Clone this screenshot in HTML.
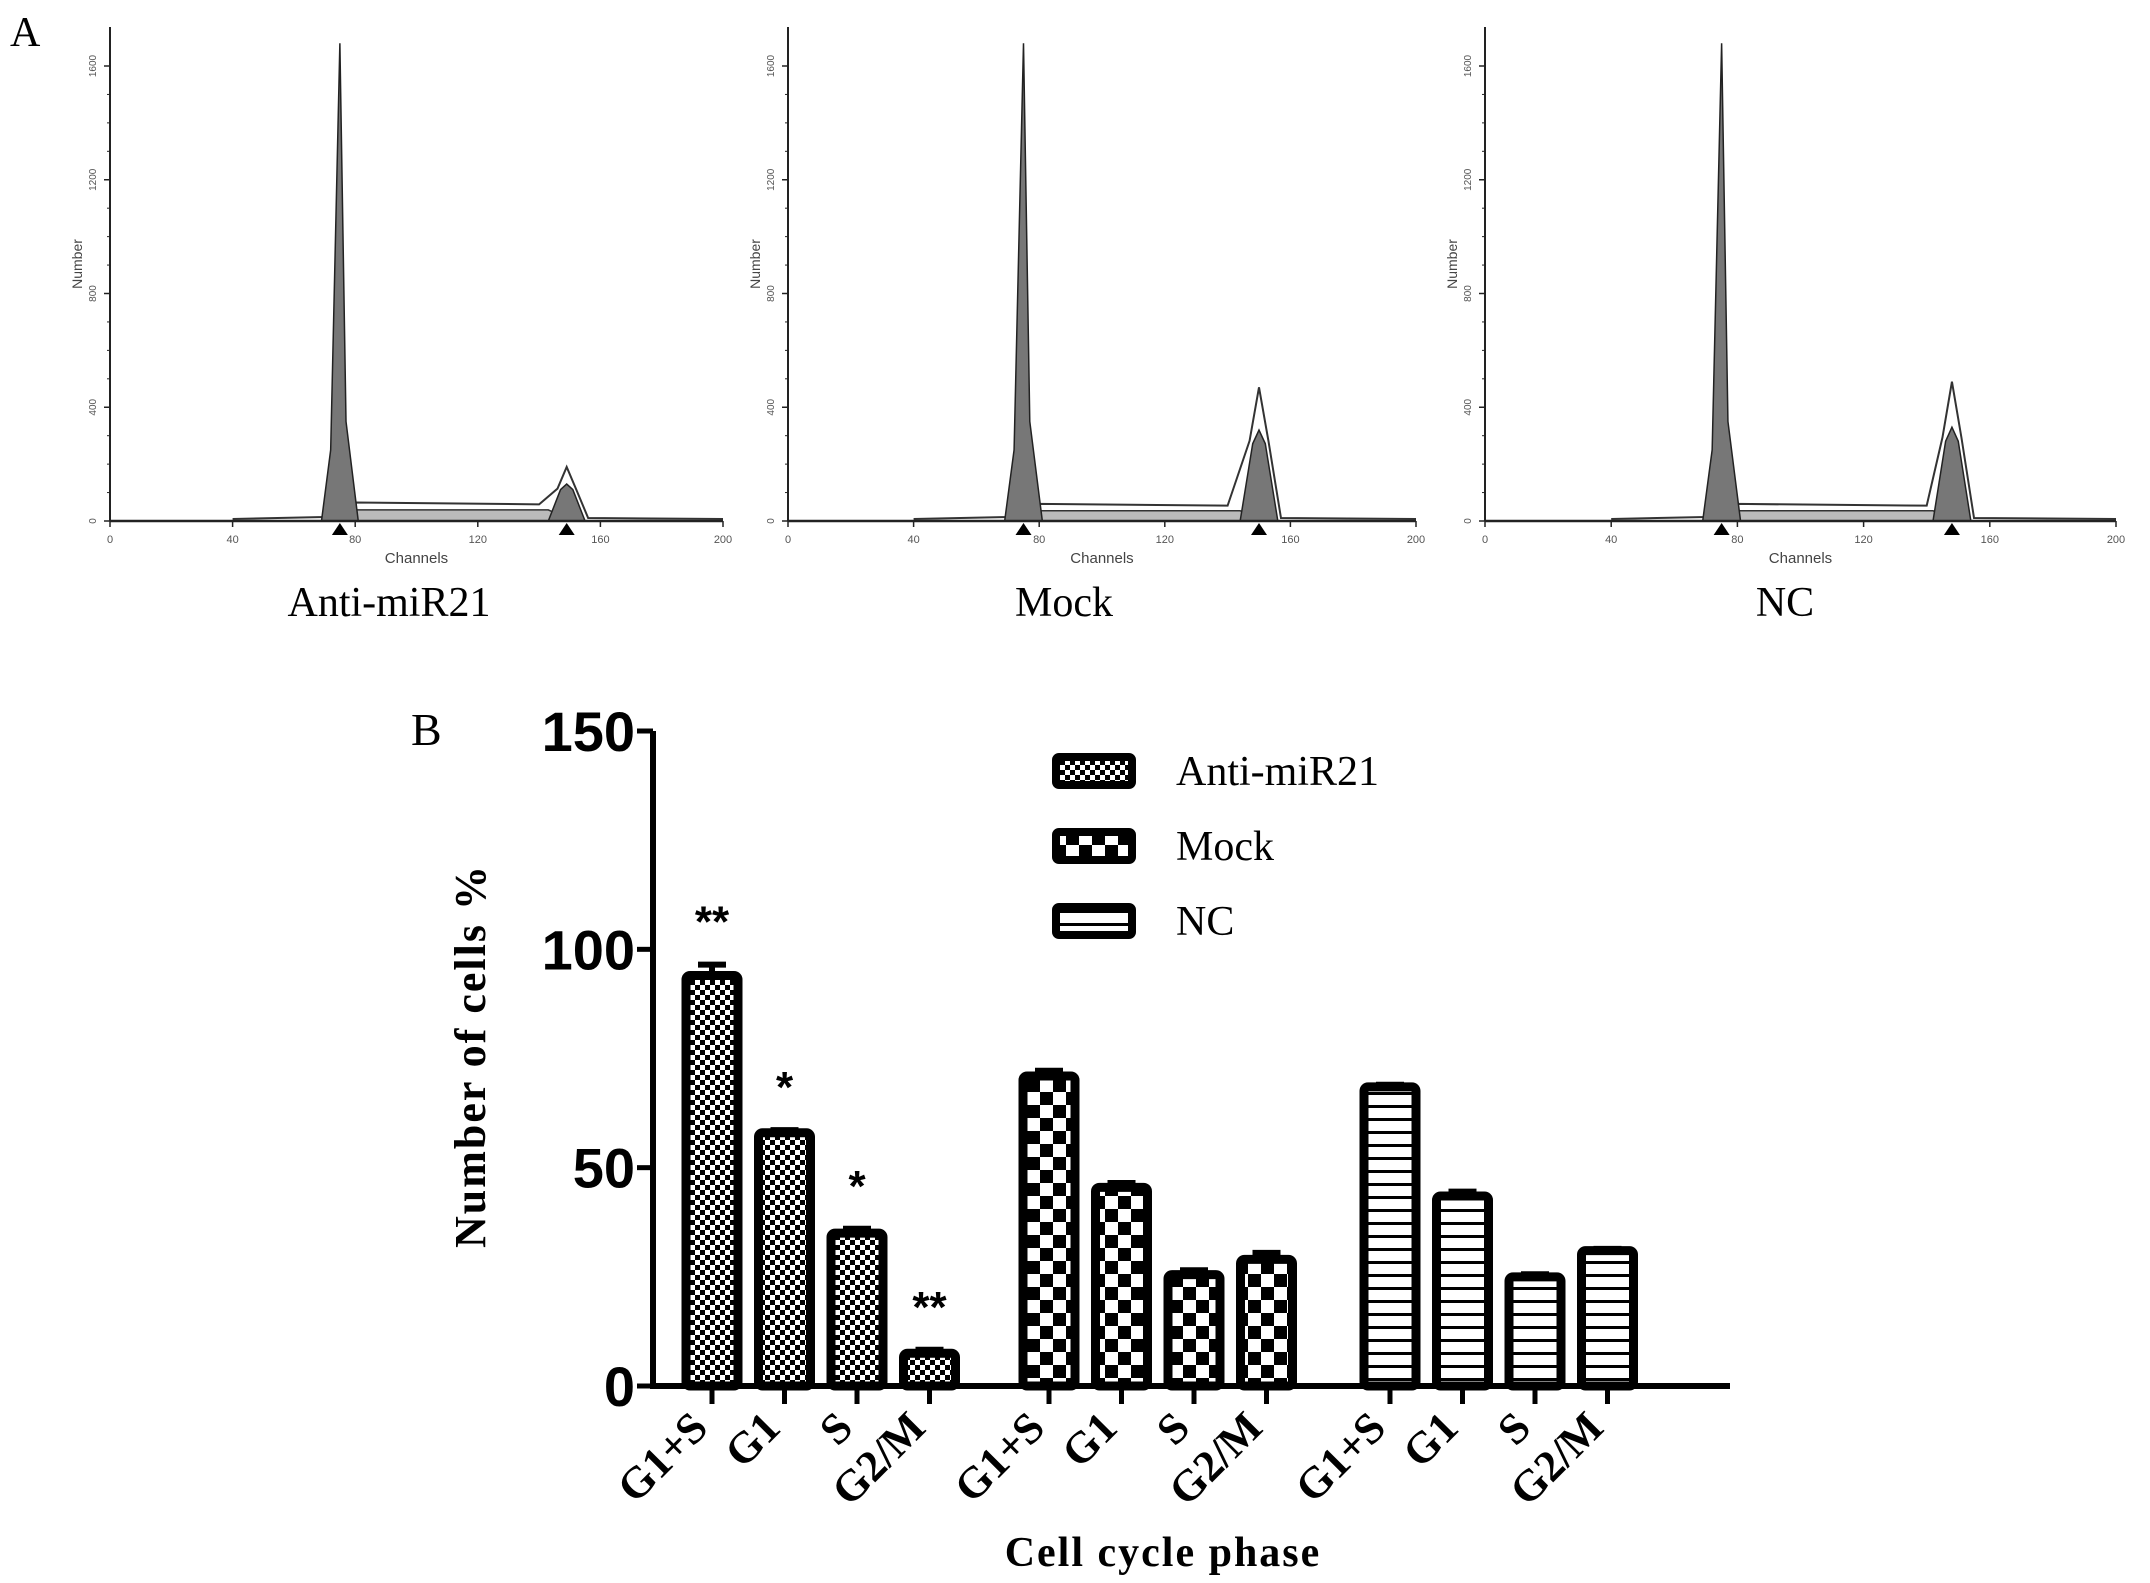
<!DOCTYPE html>
<html><head><meta charset="utf-8"><style>
html,body{margin:0;padding:0;background:#fff;width:2150px;height:1583px;overflow:hidden}
svg{display:block}
</style></head><body>
<svg id="fig" width="2150" height="1583" viewBox="0 0 2150 1583">
<defs>
<pattern id="pAnti" width="10" height="10" patternUnits="userSpaceOnUse"><rect width="10" height="10" fill="#fff"/><rect width="5" height="5" fill="#000"/><rect x="5" y="5" width="5" height="5" fill="#000"/></pattern>
<pattern id="pMock" width="26" height="26" patternUnits="userSpaceOnUse"><rect width="26" height="26" fill="#fff"/><rect width="13" height="13" fill="#000"/><rect x="13" y="13" width="13" height="13" fill="#000"/></pattern>
<pattern id="pNC" width="10" height="13" patternUnits="userSpaceOnUse"><rect width="10" height="13" fill="#fff"/><rect y="0" width="10" height="3" fill="#000"/></pattern>
</defs>
<g id="panelA"></g>
<g id="panelB"></g>
</svg>
<script>
// ---- Panel A data ----
const histNames = ["Anti-miR21","Mock","NC"];
const g1Peak = [1680,1680,1680];
const g2Peak = [190,470,490];
const g2Filled = [130,320,330];
const sPlateau = [65,60,60];
const g1Channel = [75,75,75];
const g2Channel = [149,150,148];
const histTicks = [0,400,800,1200,1600];
const chanTicks = [0,40,80,120,160,200];

// ---- Panel B data ----
const phases = ["G1+S","G1","S","G2/M"];
const groups = ["Anti-miR21","Mock","NC"];
const antiVals = [94,58,35,7.5];
const mockVals = [71,45.5,25.5,29];
const ncVals = [68.5,43.5,25,31];
const antiErr = [2.5,0.6,1,0.8];
const mockErr = [1.2,1,1,1.5];
const ncErr = [0.5,1,0.6,0.4];
const stars = ["**","*","*","**"];
const yTicks = [0,50,100,150];

const NS="http://www.w3.org/2000/svg";
function mk(parent,tag,attrs,text){const e=document.createElementNS(NS,tag);for(const k in attrs)e.setAttribute(k,attrs[k]);if(text!==undefined)e.textContent=text;parent.appendChild(e);return e;}

// Panel A
const A=document.getElementById('panelA');
const lA=mk(A,'text',{x:10,y:46,'font-family':'Liberation Serif, serif','font-size':42},'A');


const panels=[[110,723],[788,1416],[1485,2116]];
const captionX=[389,1064,1785];
const base=521, top1600=66;
histNames.forEach((nm,i)=>{
  const [x0,x1]=panels[i];
  const g=mk(A,'g',{});
  
  
  const xs=c=>x0+(x1-x0)*c/200;
  const ys=v=>base-(base-top1600)*v/1600;
  mk(g,'path',{d:`M${xs(g1Channel[i])} ${base} L${xs(g1Channel[i]+3)} ${ys(sPlateau[i]*0.6)} L${xs(g2Channel[i]-6)} ${ys(sPlateau[i]*0.6)} L${xs(g2Channel[i]+2)} ${base} Z`,fill:'#bbb',stroke:'#333','stroke-width':1.5});
  mk(g,'path',{d:`M${xs(40)} ${base-2} L${xs(70)} ${base-4} L${xs(80)} ${ys(sPlateau[i])} L${xs(140)} ${ys(sPlateau[i]*0.9)} L${xs(g2Channel[i]-3)} ${ys(g2Peak[i]*0.6)} L${xs(g2Channel[i])} ${ys(g2Peak[i])} L${xs(g2Channel[i]+3)} ${ys(g2Peak[i]*0.6)} L${xs(g2Channel[i]+7)} ${base-3} L${xs(200)} ${base-2}`,fill:'none',stroke:'#333','stroke-width':2});
  mk(g,'path',{d:`M${xs(g1Channel[i]-6)} ${base} L${xs(g1Channel[i]-3)} ${ys(250)} L${xs(g1Channel[i])} ${ys(g1Peak[i])} L${xs(g1Channel[i]+2)} ${ys(350)} L${xs(g1Channel[i]+6)} ${base} Z`,fill:'#777',stroke:'#222','stroke-width':1.5});
  mk(g,'path',{d:`M${xs(g2Channel[i]-6)} ${base} L${xs(g2Channel[i]-2)} ${ys(g2Filled[i]*0.85)} L${xs(g2Channel[i])} ${ys(g2Filled[i])} L${xs(g2Channel[i]+2)} ${ys(g2Filled[i]*0.85)} L${xs(g2Channel[i]+6)} ${base} Z`,fill:'#777',stroke:'#222','stroke-width':1.5});
  mk(g,'line',{x1:x0,y1:27,x2:x0,y2:base,stroke:'#222','stroke-width':2});
  mk(g,'line',{x1:x0,y1:base,x2:x1,y2:base,stroke:'#222','stroke-width':2.5});
  histTicks.forEach(t=>{
    mk(g,'line',{x1:x0-6,y1:ys(t),x2:x0,y2:ys(t),stroke:'#222','stroke-width':1.5});
    mk(g,'text',{x:x0-14,y:ys(t),'font-family':'Liberation Sans, sans-serif','font-size':10,fill:'#555','text-anchor':'middle',transform:`rotate(-90 ${x0-14} ${ys(t)})`},t);
  });
  for(let v=0;v<=1600;v+=100) mk(g,'line',{x1:x0-3,y1:ys(v),x2:x0,y2:ys(v),stroke:'#222','stroke-width':1});
  chanTicks.forEach(t=>{
    mk(g,'line',{x1:xs(t),y1:base,x2:xs(t),y2:base+6,stroke:'#222','stroke-width':1.5});
    mk(g,'text',{x:xs(t),y:base+22,'font-family':'Liberation Sans, sans-serif','font-size':11,fill:'#555','text-anchor':'middle'},t);
  });
  mk(g,'text',{x:x0-28,y:(27+base)/2-10,'font-family':'Liberation Sans, sans-serif','font-size':14,fill:'#444','text-anchor':'middle',transform:`rotate(-90 ${x0-28} ${(27+base)/2-10})`},'Number');
  mk(g,'text',{x:(x0+x1)/2,y:563,'font-family':'Liberation Sans, sans-serif','font-size':15,fill:'#444','text-anchor':'middle'},'Channels');
  [g1Channel[i],g2Channel[i]].forEach(c=>mk(g,'path',{d:`M${xs(c)-8} ${base+14} L${xs(c)} ${base+2} L${xs(c)+8} ${base+14} Z`,fill:'#000'}));
  const cap=mk(g,'text',{x:captionX[i],y:616,'font-family':'Liberation Serif, serif','font-size':42,'text-anchor':'middle'},nm);
  
  
});

// Panel B
const B=document.getElementById('panelB');
const X0=653,X1=1730,Y0=1386,Ytop=731;
const yS=v=>Y0-(Y0-Ytop)*v/150;
const groupStart=[712,1049,1390];
const step=72.5,bw=52;
const fills=['url(#pAnti)','url(#pMock)','url(#pNC)'];
const vals=[antiVals,mockVals,ncVals], errs=[antiErr,mockErr,ncErr];
const lB=mk(B,'text',{x:411,y:745,'font-family':'Liberation Serif, serif','font-size':46},'B');


groups.forEach((gname,gi)=>{
  phases.forEach((ph,pi)=>{
    const cx=groupStart[gi]+pi*step, v=vals[gi][pi], e=errs[gi][pi];
    const bar=mk(B,'rect',{x:cx-bw/2,y:yS(v),width:bw,height:Y0-yS(v),fill:fills[gi],stroke:'#000','stroke-width':9,rx:4});
    
    
    mk(B,'line',{x1:cx,y1:yS(v),x2:cx,y2:yS(v+e),stroke:'#000','stroke-width':6});
    mk(B,'line',{x1:cx-14,y1:yS(v+e),x2:cx+14,y2:yS(v+e),stroke:'#000','stroke-width':6});
    mk(B,'line',{x1:cx,y1:Y0,x2:cx,y2:Y0+18,stroke:'#000','stroke-width':5});
    const lx=cx-2, ly=Y0+44;
    const t=mk(B,'text',{x:lx,y:ly,'font-family':'Liberation Serif, serif','font-size':44,'font-weight':'bold','text-anchor':'end',transform:`rotate(-45 ${lx} ${ly})`},ph);
    
    
    if(gi===0){
      const s=mk(B,'text',{x:cx,y:yS(v+e)-28,'font-family':'Liberation Sans, sans-serif','font-size':44,'font-weight':'bold','text-anchor':'middle'},stars[pi]);
      
      
    }
  });
});
mk(B,'line',{x1:X0,y1:Ytop,x2:X0,y2:Y0+3,stroke:'#000','stroke-width':6});
mk(B,'line',{x1:X0-3,y1:Y0,x2:X1,y2:Y0,stroke:'#000','stroke-width':6});
yTicks.forEach(t=>{
  mk(B,'line',{x1:X0-16,y1:yS(t),x2:X0,y2:yS(t),stroke:'#000','stroke-width':5});
  const tl=mk(B,'text',{x:X0-18,y:yS(t)+20,'font-family':'Liberation Sans, sans-serif','font-size':56,'font-weight':'bold','text-anchor':'end'},t);
  
  
});
const yt=mk(B,'text',{x:485,y:1056,'font-family':'Liberation Serif, serif','font-size':44,'font-weight':'bold','text-anchor':'middle','letter-spacing':2,transform:'rotate(-90 485 1056)'},'Number of cells %');


const xt=mk(B,'text',{x:1163,y:1566,'font-family':'Liberation Serif, serif','font-size':42,'font-weight':'bold','text-anchor':'middle','letter-spacing':2},'Cell cycle phase');


const legY=[771,846,921];
groups.forEach((gname,gi)=>{
  const lg=mk(B,'g',{});
  
  
  mk(lg,'rect',{x:1056,y:legY[gi]-14,width:76,height:28,fill:fills[gi],stroke:'#000','stroke-width':8,rx:3});
  mk(lg,'text',{x:1176,y:legY[gi]+14,'font-family':'Liberation Serif, serif','font-size':42},gname);
});
</script>
</body></html>
